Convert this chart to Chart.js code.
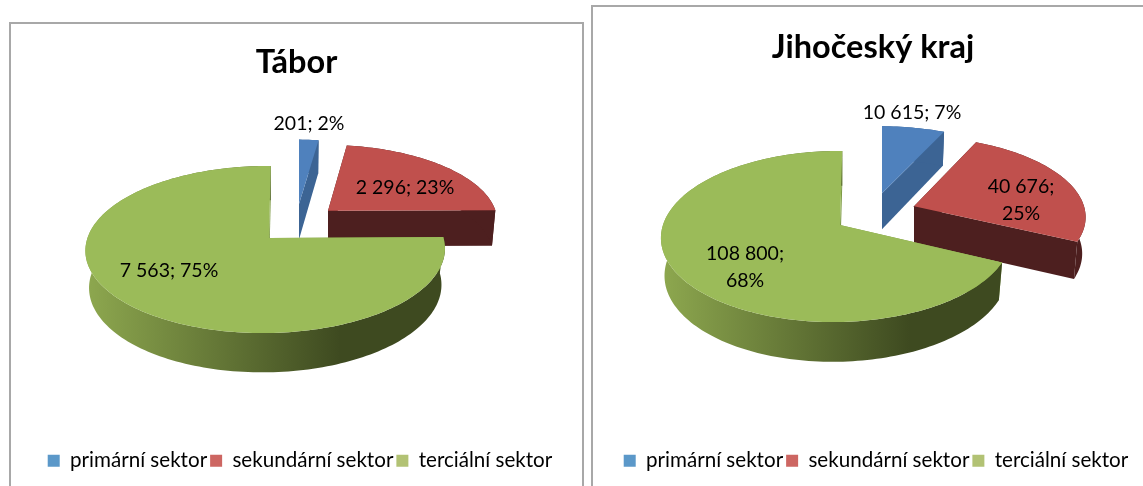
<!DOCTYPE html>
<html>
<head>
<meta charset="utf-8">
<title>Sektory</title>
<style>
  html, body { margin: 0; background: #fff; overflow: hidden; width: 1143px; height: 486px; }
  .panel { position: absolute; border: 2px solid #a8a8a8; border-bottom: 0; box-sizing: border-box; }
  #panelA { left: 9px; top: 22px; width: 575px; height: 464px; }
  #panelB { left: 591px; top: 5px; width: 600px; height: 481px; }
  canvas { position: absolute; }
</style>
</head>
<body>
<div class="panel" id="panelA"></div>
<div class="panel" id="panelB"></div>
<canvas id="chartA" width="571" height="462" style="left:11px;top:24px"></canvas>
<canvas id="chartB" width="560" height="479" style="left:593px;top:7px"></canvas>
<script src="https://cdn.jsdelivr.net/npm/chart.js@4"></script>
<script>
const categories = ["primární sektor", "sekundární sektor", "terciální sektor"];
const taborValues = [201, 2296, 7563];
const jihoceskyValues = [10615, 40676, 108800];
const taborTitle = "Tábor";
const jihoceskyTitle = "Jihočeský kraj";

const topColors = ["#4f81bd", "#c0504d", "#9bbb59"];
const wallColors = ["#3c6494", "#4d1f1f", "#7d9a45"];
const legendColors = ["#5b98c9", "#cd6662", "#b2c274"];
const FONT = "Lato, Carlito, sans-serif";

/* perspective look of each pie: where it sits on the page and how it is tilted.
   explode = [sideways px, depth in radii, width scale] per slice */
const taborView = {
  ox: 11, oy: 24, x0: 269, y0: 238, a: 81.9, b: 178, k: -0.138, m: 0.0195, s: -2, depth: 36.5, shrink: 0.98,
  explode: [[30, -0.44, 1], [59, -0.35, 0.96], [0, 0, 1]],
  labels: [[309, 124], [405, 188], [169, 271]], wrap: [false, false, false], legendShift: 3.5,
};
const jihoceskyView = {
  ox: 593, oy: 7, x0: 840, y0: 225, a: 83.95, b: 173.5, k: -0.1345, m: 0.02, s: -2.6, depth: 37, shrink: 0.98,
  explode: [[42, -0.4, 1], [74, -0.23, 1], [0, 0, 1]],
  labels: [[912, 113], [1021, 200], [745, 267]], wrap: [false, true, true], legendShift: 3,
};

/* pie controller that keeps the library's slice angles but paints them as a tilted 3D disc */
class Pie3dController extends Chart.PieController {
  draw() {
    const ds = this.getDataset(), view = ds.view, ctx = this.chart.ctx;
    this.getMeta().data.forEach((arc, i) => {
      const [ex, ey, sc] = view.explode[i];
      const project = (u, v, down) => {
        const d = 1 + view.k * v + view.m * u;
        const dx = (view.b * u + (ey ? 0 : view.s) * v) / d * sc;
        const v2 = v + ey;
        const d2 = 1 + view.k * v2 + view.m * u;
        return [
          view.x0 - view.ox + ex + (down ? dx * view.shrink : dx),
          view.y0 - view.oy + view.a * v2 / d2 + (down ? view.depth / Math.sqrt(d2) : 0),
        ];
      };
      const pts = [];
      const n = Math.max(4, Math.ceil((arc.endAngle - arc.startAngle) * 40));
      for (let j = 0; j <= n; j++) {
        const t = arc.startAngle + (arc.endAngle - arc.startAngle) * j / n;
        pts.push([Math.cos(t), Math.sin(t)]);
      }
      const path = (list, fill) => {
        ctx.beginPath();
        list.forEach((p, idx) => idx ? ctx.lineTo(p[0], p[1]) : ctx.moveTo(p[0], p[1]));
        ctx.closePath();
        ctx.fillStyle = fill;
        ctx.fill();
      };
      ctx.save();
      // radial walls
      [pts[0], pts[n]].forEach(p => {
        path([project(0, 0, false), project(p[0], p[1], false), project(p[0], p[1], true), project(0, 0, true)], wallColors[i]);
      });
      // outer rim
      let rim = wallColors[i];
      if (i === 2) {
        const left = view.x0 - view.ox - view.b, right = view.x0 - view.ox + view.b;
        rim = ctx.createLinearGradient(left, 0, right, 0);
        rim.addColorStop(0, "#8ca64e");
        rim.addColorStop(0.7, "#3e4a20");
        rim.addColorStop(1, "#3e4a20");
      }
      path(pts.map(p => project(p[0], p[1], false)).concat(pts.slice().reverse().map(p => project(p[0], p[1], true))), rim);
      // top face
      path([project(0, 0, false)].concat(pts.map(p => project(p[0], p[1], false))), ds.backgroundColor[i]);
      ctx.restore();
    });
  }
}
Pie3dController.id = "pie3d";
Pie3dController.defaults = Chart.PieController.defaults;
Pie3dController.overrides = Chart.PieController.overrides;
Chart.register(Pie3dController);

const sliceLabels = {
  id: "sliceLabels",
  afterLayout(chart) {
    // legend sits a little right of the title in the original
    const shift = chart.data.datasets[0].view.legendShift;
    chart.legend.left += shift;
    chart.legend.right += shift;
  },
  afterDatasetsDraw(chart) {
    const ds = chart.data.datasets[0], view = ds.view, ctx = chart.ctx;
    const total = ds.data.reduce((a, b) => a + b, 0);
    ctx.save();
    ctx.font = "19.5px " + FONT;
    ctx.fillStyle = "#000";
    ctx.textAlign = "center";
    ctx.textBaseline = "middle";
    ds.data.forEach((val, i) => {
      const num = String(val).replace(/\B(?=(\d{3})+$)/g, " ");
      const pct = Math.round(val / total * 100) + "%";
      const [x, y] = view.labels[i];
      if (view.wrap[i]) {
        ctx.fillText(num + ";", x - view.ox, y - view.oy - 13.5);
        ctx.fillText(pct, x - view.ox, y - view.oy + 13.5);
      } else {
        ctx.fillText(num + "; " + pct, x - view.ox, y - view.oy);
      }
    });
    ctx.restore();
  },
};

function makeChart(id, title, values, view, titleTop) {
  return new Chart(document.getElementById(id), {
    type: "pie3d",
    data: {
      labels: categories,
      datasets: [{ data: values, backgroundColor: topColors, borderWidth: 0, view: view }],
    },
    options: {
      responsive: false,
      animation: false,
      layout: { padding: { bottom: 5 } },
      plugins: {
        title: {
          display: true, text: title, color: "#000",
          font: { family: FONT, size: 32.5, weight: "bold" },
          padding: { top: titleTop, bottom: 10 },
        },
        tooltip: { enabled: false },
        legend: {
          position: "bottom",
          labels: {
            boxWidth: 12, boxHeight: 12, padding: 3, color: "#222",
            font: { family: FONT, size: 20.6 },
            generateLabels: () => categories.map((c, i) => ({
              text: c, fillStyle: legendColors[i], strokeStyle: legendColors[i], lineWidth: 0, index: i,
            })),
          },
        },
      },
    },
    plugins: [sliceLabels],
  });
}

makeChart("chartA", taborTitle, taborValues, taborView, 19);
makeChart("chartB", jihoceskyTitle, jihoceskyValues, jihoceskyView, 21);
</script>
</body>
</html>
